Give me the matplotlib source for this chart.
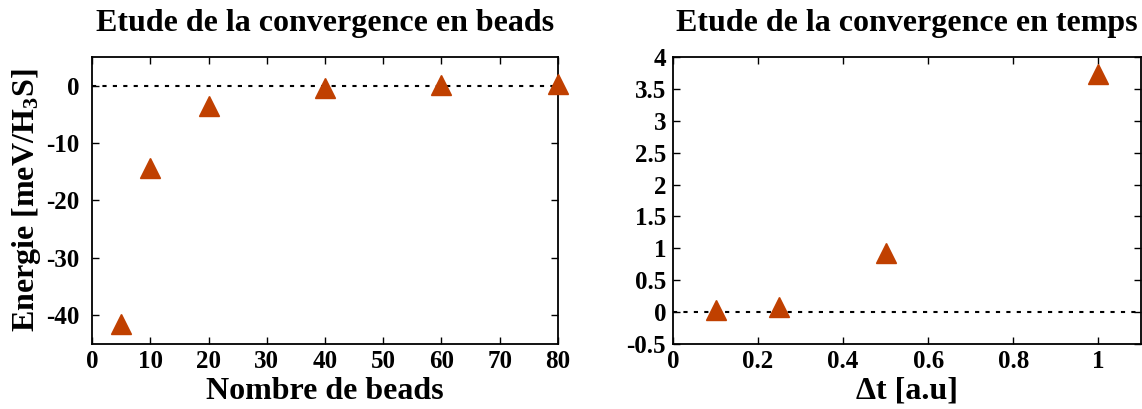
import matplotlib
matplotlib.use("Agg")
import matplotlib.pyplot as plt

# convergence en beads
beads = [5, 10, 20, 40, 60, 80]
e_beads = [-41.5, -14.4, -3.6, -0.4, 0.2, 0.3]

# convergence en temps
dt = [0.1, 0.25, 0.5, 1.0]
e_dt = [0.03, 0.08, 0.93, 3.73]

plt.rcParams['font.family'] = 'Liberation Serif'
plt.rcParams['font.weight'] = 'bold'
plt.rcParams['axes.unicode_minus'] = False
plt.rcParams['mathtext.fontset'] = 'custom'
plt.rcParams['mathtext.rm'] = 'Liberation Serif:bold'
plt.rcParams['mathtext.bf'] = 'Liberation Serif:bold'
plt.rcParams['mathtext.default'] = 'regular'

col = '#C04000'

fig = plt.figure(figsize=(11.42, 4.09), dpi=100)
ax1 = fig.add_axes([0.0806, 0.159, 0.408, 0.7017])
ax2 = fig.add_axes([0.5893, 0.159, 0.4098, 0.7017])


def style(ax, ypad):
    ax.tick_params(direction='in', top=True, right=True, length=5, width=1,
                   labelsize=18)
    ax.tick_params(axis='y', pad=ypad)
    ax.tick_params(axis='x', pad=4)
    for s in ax.spines.values():
        s.set_linewidth(1.3)
    for lab in ax.get_xticklabels() + ax.get_yticklabels():
        lab.set_fontweight('bold')


ax1.axhline(0, color='black', lw=1.5, ls=(0, (2, 3)), zorder=1)
ax1.plot(beads, e_beads, ls='none', marker='^', ms=14, color=col, zorder=3,
         clip_on=False)
ax1.set_xlim(0, 80)
ax1.set_ylim(-45, 5)
ax1.set_xticks(range(0, 81, 10))
ax1.set_yticks([-40, -30, -20, -10, 0])
ax1.set_title('Etude de la convergence en beads', fontsize=23,
              fontweight='bold', pad=19)
ax1.set_xlabel('Nombre de beads', fontsize=23, fontweight='bold',
               labelpad=3)
ax1.set_ylabel('Energie [meV/H$_3$S]', fontsize=23, fontweight='bold',
               labelpad=2)
style(ax1, 9)

ax2.axhline(0, color='black', lw=1.5, ls=(0, (2, 3)), zorder=1)
ax2.plot(dt, e_dt, ls='none', marker='^', ms=14, color=col, zorder=3,
         clip_on=False)
ax2.set_xlim(0, 1.1)
ax2.set_ylim(-0.5, 4)
ax2.set_xticks([0, 0.2, 0.4, 0.6, 0.8, 1])
ax2.set_xticklabels(['0', '0.2', '0.4', '0.6', '0.8', '1'])
ax2.set_yticks([-0.5, 0, 0.5, 1, 1.5, 2, 2.5, 3, 3.5, 4])
ax2.set_yticklabels(['-0.5', '0', '0.5', '1', '1.5', '2', '2.5', '3',
                     '3.5', '4'])
ax2.set_title('Etude de la convergence en temps', fontsize=23,
              fontweight='bold', pad=19)
ax2.set_xlabel('\u0394t [a.u]', fontsize=23, fontweight='bold', labelpad=3)
style(ax2, 5)

fig.savefig('out.png', dpi=100)
